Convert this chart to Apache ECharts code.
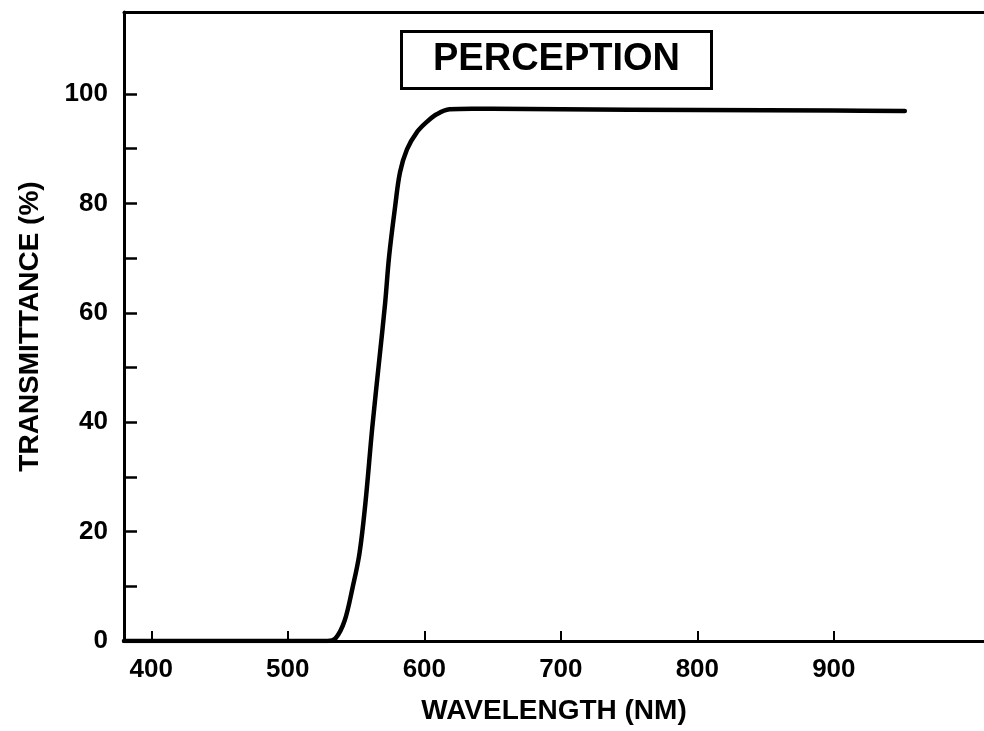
<!DOCTYPE html>
<html>
<head>
<meta charset="utf-8">
<script src="https://cdn.jsdelivr.net/npm/echarts@6/dist/echarts.min.js"></script>
<style>
html,body{margin:0;padding:0;background:#fff;}
#chart{width:984px;height:731px;}
</style>
</head>
<body>
<div id="chart"></div>
<script>
// Data
const wavelength = [380, 450, 500, 520, 529, 535, 541.6, 547.4, 552.5, 556.8, 561.9, 567, 571.3, 574.2, 578.6, 582.2, 587.3, 594.5, 601.8, 609, 618.5, 635, 650, 700, 800, 900, 952];
const transmittance = [0, 0, 0, 0, 0, 0.5, 3.7, 9.7, 16, 25.1, 39.1, 51.4, 61.8, 70.3, 79.4, 85.7, 89.9, 93.0, 94.9, 96.3, 97.2, 97.3, 97.3, 97.2, 97.1, 97.0, 96.9];
const xTickValues = [400, 500, 600, 700, 800, 900];
const yTickValues = [0, 10, 20, 30, 40, 50, 60, 70, 80, 90, 100];
const yLabelValues = [0, 20, 40, 60, 80, 100];
const titleText = 'PERCEPTION';
const xName = 'WAVELENGTH (NM)';
const yName = 'TRANSMITTANCE (%)';

const font = '"Liberation Sans", Arial, Helvetica, sans-serif';
const chart = echarts.init(document.getElementById('chart'), null, {renderer: 'canvas'});
const seriesData = wavelength.map((w, i) => [w, transmittance[i]]);

chart.setOption({
  animation: false,
  backgroundColor: '#ffffff',
  title: {
    text: titleText,
    left: 401,
    top: 31,
    padding: [10, 32, 10, 32],
    borderColor: '#000',
    borderWidth: 3,
    textStyle: {fontFamily: font, fontWeight: 'bold', fontSize: 38, color: '#000', lineHeight: 38}
  },
  grid: {left: 124, top: 12, width: 867, height: 629},
  xAxis: [{
    type: 'value',
    min: 380,
    max: 1010,
    position: 'bottom',
    name: xName,
    nameLocation: 'middle',
    nameGap: 56,
    nameTextStyle: {fontFamily: font, fontWeight: 'bold', fontSize: 28, color: '#000'},
    axisLine: {show: true, lineStyle: {color: '#000', width: 3}},
    axisTick: {show: true, inside: true, length: 10, lineStyle: {color: '#000', width: 2}, customValues: xTickValues},
    axisLabel: {show: true, margin: 16, fontFamily: font, fontWeight: 'bold', fontSize: 26, color: '#000', customValues: xTickValues},
    splitLine: {show: false}
  }, {
    type: 'value',
    min: 380,
    max: 1010,
    position: 'top',
    axisLine: {show: true, lineStyle: {color: '#000', width: 3}},
    axisTick: {show: false},
    axisLabel: {show: false},
    splitLine: {show: false}
  }],
  yAxis: {
    type: 'value',
    min: 0,
    max: 115,
    name: yName,
    nameLocation: 'middle',
    nameRotate: 90,
    nameGap: 80,
    nameTextStyle: {fontFamily: font, fontWeight: 'bold', fontSize: 28, color: '#000'},
    axisLine: {show: true, lineStyle: {color: '#000', width: 3}},
    axisTick: {show: true, inside: true, length: 13, lineStyle: {color: '#000', width: 2.5}, customValues: yTickValues},
    axisLabel: {show: true, margin: 16, fontFamily: font, fontWeight: 'bold', fontSize: 26, color: '#000', customValues: yLabelValues},
    splitLine: {show: false}
  },
  series: [{
    type: 'line',
    data: seriesData,
    showSymbol: false,
    smooth: 0.35,
    lineStyle: {color: '#000', width: 4.5, cap: 'round', join: 'round'},
    z: 3
  }]
});
</script>
</body>
</html>
